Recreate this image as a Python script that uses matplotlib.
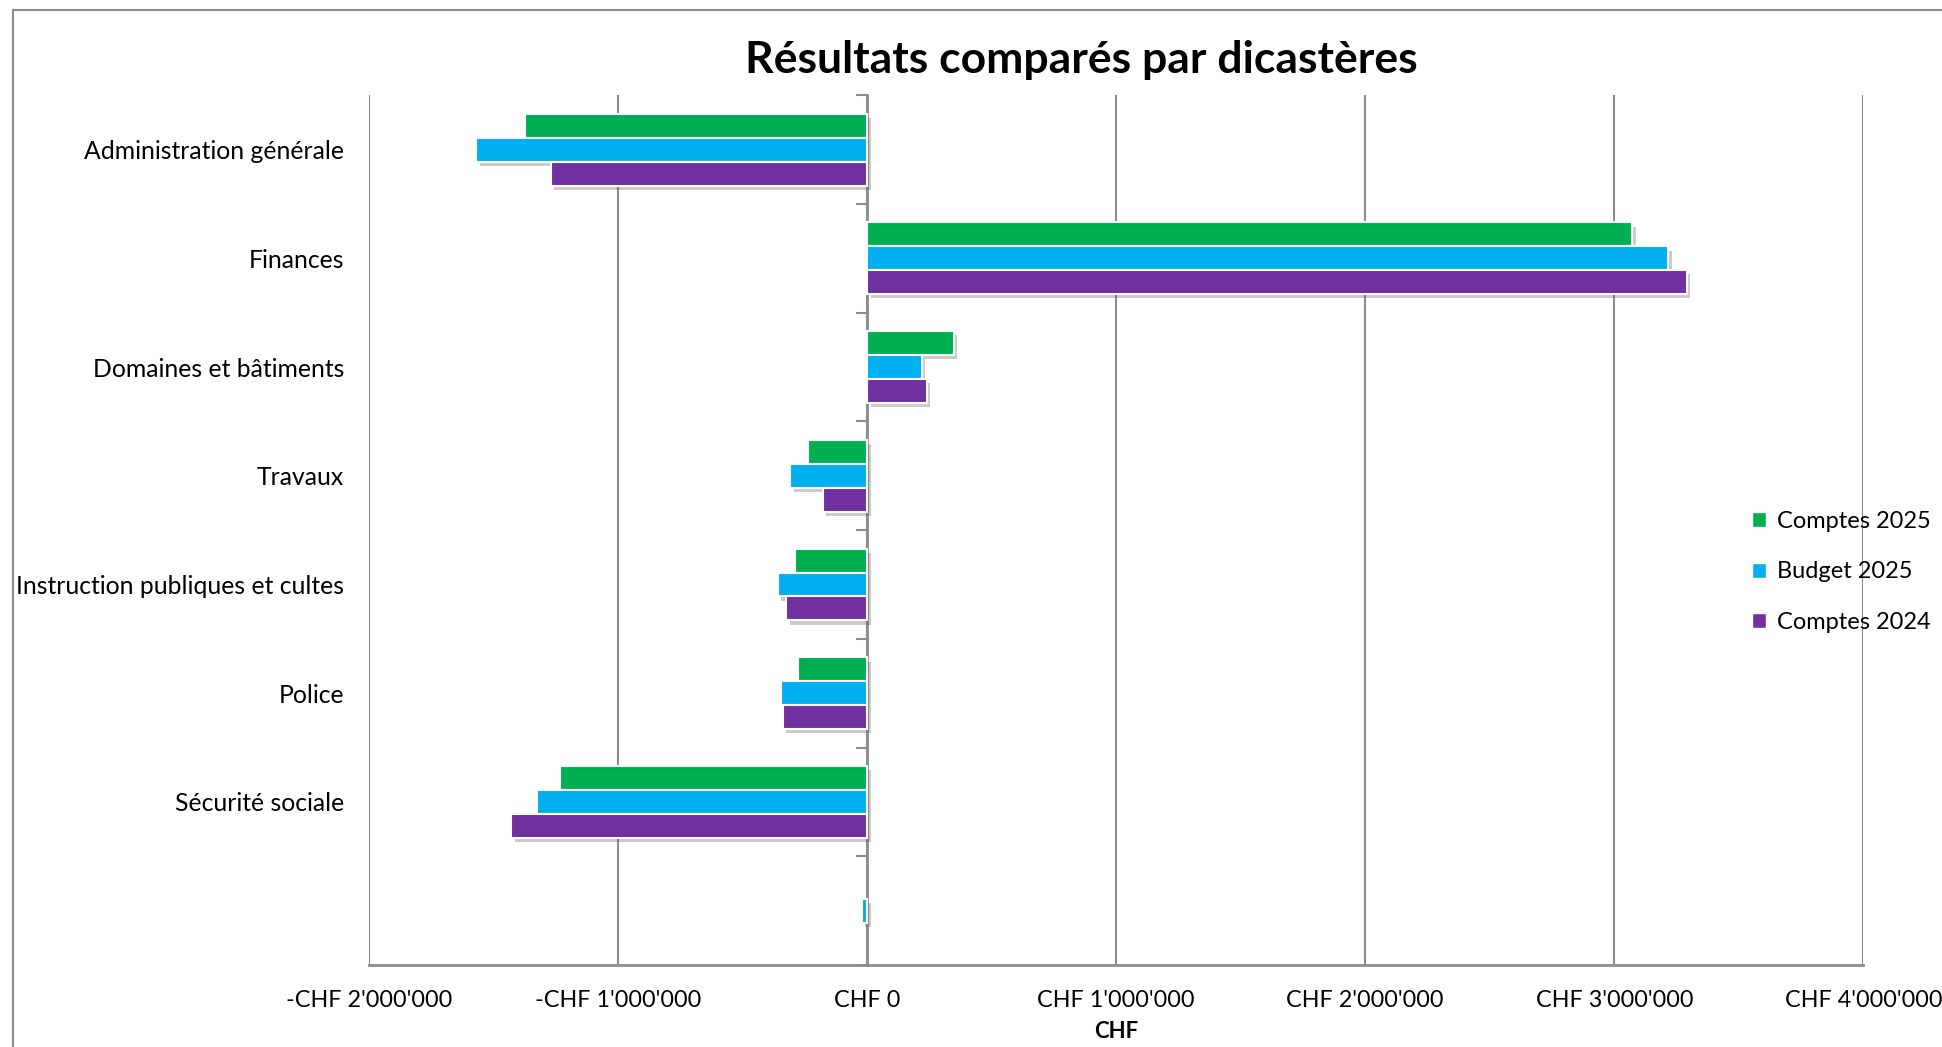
import matplotlib
matplotlib.use('Agg')
import matplotlib.pyplot as plt
import matplotlib.patheffects as pe
from matplotlib.patches import Rectangle, Patch
from matplotlib.ticker import FuncFormatter
import numpy as np

plt.rcParams['font.family'] = ['Lato', 'DejaVu Sans']

categories = ['Administration générale', 'Finances', 'Domaines et bâtiments', 'Travaux',
              'Instruction publiques et cultes', 'Police', 'Sécurité sociale', '']
comptes_2025 = [-1375000, 3073000, 349000, -239000, -289000, -279000, -1235000, 0]
budget_2025 = [-1569000, 3217000, 219000, -309000, -359000, -344000, -1325000, -22000]
comptes_2024 = [-1270000, 3292000, 239000, -179000, -324000, -339000, -1429000, 0]

series = [('Comptes 2025', comptes_2025, '#00B050'),
          ('Budget 2025', budget_2025, '#00B0F0'),
          ('Comptes 2024', comptes_2024, '#7030A0')]

fig = plt.figure(figsize=(19.42, 10.47), dpi=100)
ax = fig.add_axes([0.190, 0.0783, 0.7695, 0.8307])

# chart frame
fig.patches.append(Rectangle((13 / 1942, -0.1), 1.2, 1.1 - 10 / 1047, transform=fig.transFigure,
                             fill=False, edgecolor='#8c8c8c', linewidth=1.5))

y = np.arange(len(categories))
h = 0.22
shadow = [pe.SimplePatchShadow(offset=(2.5, -3), shadow_rgbFace='#555555', alpha=0.3), pe.Normal()]
for i, (name, vals, col) in enumerate(series):
    bars = ax.barh(y + (i - 1) * h, vals, height=h, color=col, edgecolor='white',
                   linewidth=1.5, zorder=3)
    for b, v in zip(bars, vals):
        if v == 0:
            b.set_visible(False)
        else:
            b.set_path_effects(shadow)

ax.set_xlim(-2000000, 4000000)
ax.set_ylim(len(categories) - 0.5, -0.5)
ax.set_xticks(np.arange(-2000000, 4000001, 1000000))


def chf(v, pos):
    n = int(round(v))
    s = "{:,}".format(abs(n)).replace(',', "'")
    return ('-CHF ' if n < 0 else 'CHF ') + s


ax.xaxis.set_major_formatter(FuncFormatter(chf))
ax.tick_params(axis='x', length=0, labelsize=16.8, pad=18)
ax.set_yticks(y)
ax.set_yticklabels(categories)
ax.tick_params(axis='y', length=0, labelsize=17.8, pad=18)
ax.grid(axis='x', color='#8c8c8c', linewidth=1.5, zorder=0)
ax.set_axisbelow(True)
for s in ['top', 'right', 'left']:
    ax.spines[s].set_visible(False)
ax.spines['bottom'].set_color('#8c8c8c')
ax.spines['bottom'].set_linewidth(2)

# vertical axis at zero with category boundary ticks
sec = ax.secondary_yaxis(1 / 3)
sec.set_yticks(np.arange(-0.5, len(categories), 1))
sec.set_yticklabels([])
sec.tick_params(length=8, width=1.5, color='#8c8c8c', direction='out')
sec.spines['left'].set_color('#8c8c8c')
sec.spines['left'].set_linewidth(2)

ax.set_xlabel('CHF', fontsize=16, fontweight='bold', labelpad=7)
fig.suptitle('Résultats comparés par dicastères', x=0.557, y=0.943, fontsize=32,
             fontweight='bold', va='center')

handles = [Patch(facecolor=col, edgecolor='white', label=name) for name, _, col in series]
ax.legend(handles=handles, loc='center left', bbox_to_anchor=(1752 / 1942, 1 - 572 / 1047),
          bbox_transform=fig.transFigure, frameon=False, fontsize=17, handlelength=0.6,
          handleheight=0.6, handletextpad=0.45, labelspacing=1.25, borderaxespad=0, borderpad=0)

fig.savefig('out.png', dpi=100)
